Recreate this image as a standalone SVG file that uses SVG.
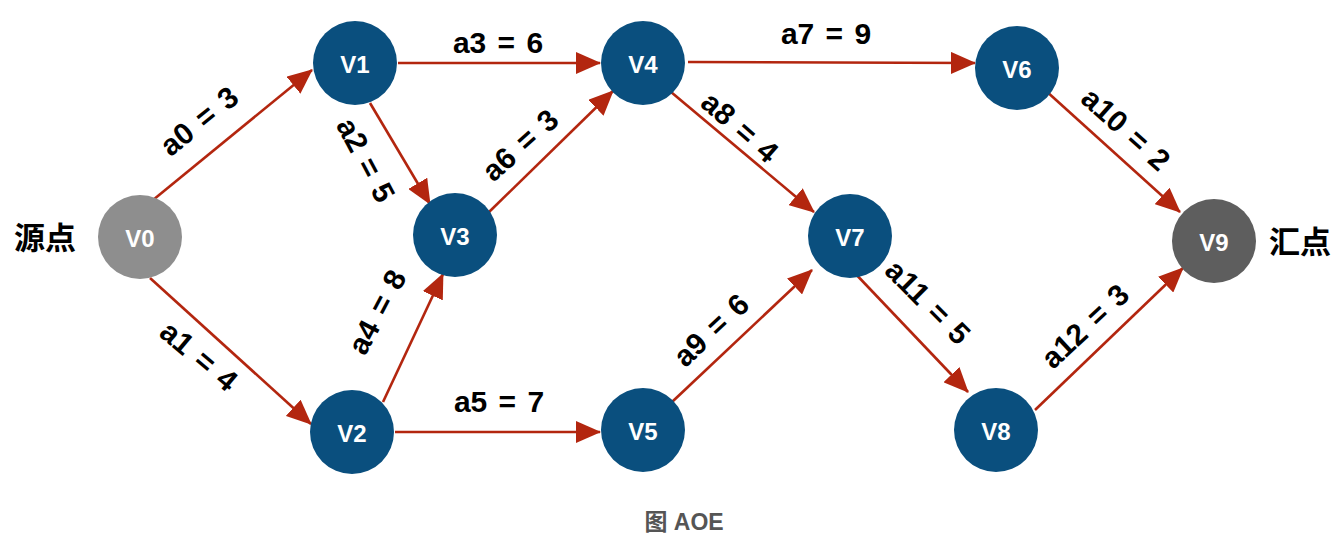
<svg xmlns="http://www.w3.org/2000/svg" width="1344" height="544" viewBox="0 0 1344 544">
<style>
.n circle{fill:#0a4f7e}
.n text{fill:#fff;font-family:"Liberation Sans",Arial,sans-serif;font-weight:bold;font-size:24px;text-anchor:middle;dominant-baseline:central}
#edges line{stroke:#b3260f;stroke-width:2.6;marker-end:url(#ah)}
.lbl{font-family:"Liberation Sans",Arial,sans-serif;font-weight:bold;font-size:30px;word-spacing:3px;text-anchor:middle;dominant-baseline:central;fill:#000}
.cn{font-family:"Liberation Sans","Noto Sans CJK SC",sans-serif;font-weight:bold;font-size:31px;fill:#000;dominant-baseline:central}
</style>
<defs>
<marker id="ah" markerUnits="userSpaceOnUse" markerWidth="25" markerHeight="22" refX="24" refY="11" orient="auto">
<path d="M0,0 L25,11 L0,22 Z" fill="#b3260f"/>
</marker>
</defs>
<rect width="1344" height="544" fill="#fff"/>
<g id="edges">
<line x1="153" y1="200" x2="312" y2="70"/>
<line x1="150" y1="278" x2="311" y2="424"/>
<line x1="370" y1="103" x2="430" y2="204"/>
<line x1="398" y1="63" x2="600" y2="63"/>
<line x1="383" y1="402" x2="443" y2="274"/>
<line x1="395" y1="432" x2="600" y2="432"/>
<line x1="488" y1="213" x2="613" y2="91"/>
<line x1="688" y1="62" x2="975" y2="63"/>
<line x1="671" y1="92" x2="814" y2="212"/>
<line x1="672" y1="402" x2="812" y2="270"/>
<line x1="1045" y1="90" x2="1180" y2="212"/>
<line x1="850" y1="268" x2="968" y2="392"/>
<line x1="1035" y1="410" x2="1183" y2="268"/>
</g>
<g id="labels">
<text class="lbl" transform="translate(199,121) rotate(-39)">a0 = 3</text>
<text class="lbl" transform="translate(199,356) rotate(40)">a1 = 4</text>
<text class="lbl" transform="translate(366,160) rotate(62)">a2 = 5</text>
<text class="lbl" transform="translate(498,42)">a3 = 6</text>
<text class="lbl" transform="translate(377,312) rotate(-62)">a4 = 8</text>
<text class="lbl" transform="translate(499,401)">a5 = 7</text>
<text class="lbl" transform="translate(520,145) rotate(-42)">a6 = 3</text>
<text class="lbl" transform="translate(826,33)">a7 = 9</text>
<text class="lbl" transform="translate(740,127) rotate(41)">a8 = 4</text>
<text class="lbl" transform="translate(711,330) rotate(-43)">a9 = 6</text>
<text class="lbl" transform="translate(1126,129) rotate(42)">a10 = 2</text>
<text class="lbl" transform="translate(928,302) rotate(45)">a11 = 5</text>
<text class="lbl" transform="translate(1085,326) rotate(-43)">a12 = 3</text>
</g>
<g id="V0" class="n"><circle cx="140" cy="237" r="42" style="fill:#8e8e8e"/><text x="140" y="238">V0</text></g>
<g id="V1" class="n"><circle cx="355" cy="63" r="42"/><text x="355" y="64">V1</text></g>
<g id="V2" class="n"><circle cx="352" cy="432" r="42"/><text x="352" y="433">V2</text></g>
<g id="V3" class="n"><circle cx="455" cy="235" r="42"/><text x="455" y="236">V3</text></g>
<g id="V4" class="n"><circle cx="643" cy="63" r="42"/><text x="643" y="64">V4</text></g>
<g id="V5" class="n"><circle cx="643" cy="430" r="42"/><text x="643" y="431">V5</text></g>
<g id="V6" class="n"><circle cx="1017" cy="68" r="42"/><text x="1017" y="69">V6</text></g>
<g id="V7" class="n"><circle cx="850" cy="236" r="42"/><text x="850" y="237">V7</text></g>
<g id="V8" class="n"><circle cx="996" cy="430" r="42"/><text x="996" y="431">V8</text></g>
<g id="V9" class="n"><circle cx="1214" cy="241" r="42" style="fill:#5e5e5e"/><text x="1214" y="242">V9</text></g>
<text class="cn" x="14" y="238">源点</text>
<text class="cn" x="1269" y="242">汇点</text>
<text x="684" y="522" style="font-family:'Liberation Sans','Noto Sans CJK SC',sans-serif;font-weight:bold;font-size:23px;fill:#555;text-anchor:middle;dominant-baseline:central">图 AOE</text>
</svg>
